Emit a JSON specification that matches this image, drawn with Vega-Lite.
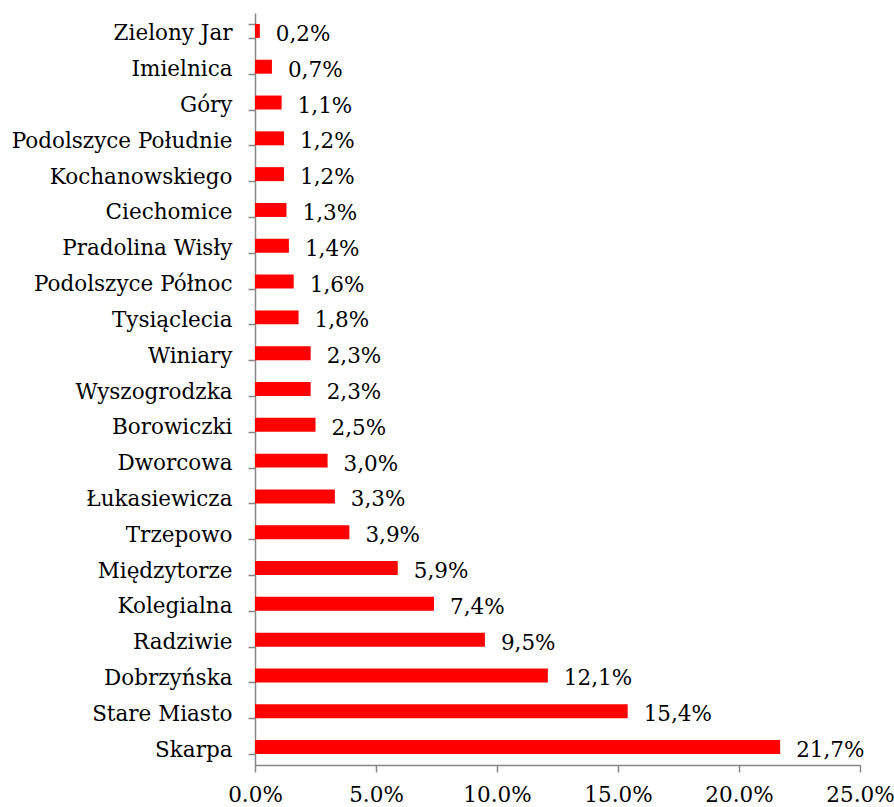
{
  "$schema": "https://vega.github.io/schema/vega-lite/v6.json",
  "autosize": "none",
  "width": 605,
  "height": 752,
  "padding": {"left": 255, "top": 13, "right": 34, "bottom": 42},
  "background": "white",
  "config": {
    "view": {"stroke": null},
    "font": "DejaVu Serif",
    "axis": {
      "labelFont": "DejaVu Serif",
      "labelFontSize": 21.5,
      "labelColor": "black",
      "labelLimit": 0,
      "domainColor": "#868686",
      "tickColor": "#868686",
      "domainWidth": 1.5,
      "tickWidth": 1.5,
      "grid": false,
      "title": null
    }
  },
  "data": {
    "values": [
      {"district": "Zielony Jar", "share": 0.2, "label": "0,2%"},
      {"district": "Imielnica", "share": 0.7, "label": "0,7%"},
      {"district": "Góry", "share": 1.1, "label": "1,1%"},
      {"district": "Podolszyce Południe", "share": 1.2, "label": "1,2%"},
      {"district": "Kochanowskiego", "share": 1.2, "label": "1,2%"},
      {"district": "Ciechomice", "share": 1.3, "label": "1,3%"},
      {"district": "Pradolina Wisły", "share": 1.4, "label": "1,4%"},
      {"district": "Podolszyce Północ", "share": 1.6, "label": "1,6%"},
      {"district": "Tysiąclecia", "share": 1.8, "label": "1,8%"},
      {"district": "Winiary", "share": 2.3, "label": "2,3%"},
      {"district": "Wyszogrodzka", "share": 2.3, "label": "2,3%"},
      {"district": "Borowiczki", "share": 2.5, "label": "2,5%"},
      {"district": "Dworcowa", "share": 3.0, "label": "3,0%"},
      {"district": "Łukasiewicza", "share": 3.3, "label": "3,3%"},
      {"district": "Trzepowo", "share": 3.9, "label": "3,9%"},
      {"district": "Międzytorze", "share": 5.9, "label": "5,9%"},
      {"district": "Kolegialna", "share": 7.4, "label": "7,4%"},
      {"district": "Radziwie", "share": 9.5, "label": "9,5%"},
      {"district": "Dobrzyńska", "share": 12.1, "label": "12,1%"},
      {"district": "Stare Miasto", "share": 15.4, "label": "15,4%"},
      {"district": "Skarpa", "share": 21.7, "label": "21,7%"}
    ]
  },
  "encoding": {
    "y": {
      "field": "district",
      "type": "nominal",
      "sort": null,
      "scale": {"paddingInner": 0.61, "paddingOuter": 0.305},
      "axis": {
        "tickBand": "extent",
        "tickSize": 7,
        "labelPadding": 16,
        "labelOffset": 3
      }
    },
    "x": {
      "field": "share",
      "type": "quantitative",
      "scale": {"domain": [0, 25], "nice": false, "zero": true},
      "axis": {
        "values": [0, 5, 10, 15, 20, 25],
        "labelExpr": "format(datum.value, '.1f') + '%'",
        "tickSize": 7,
        "labelPadding": 12,
        "labelFlush": false,
        "labelOverlap": false
      }
    }
  },
  "layer": [
    {"mark": {"type": "bar", "color": "#FF0000"}},
    {
      "mark": {
        "type": "text",
        "align": "left",
        "baseline": "alphabetic",
        "dx": 16,
        "dy": 10,
        "fontSize": 21.5,
        "font": "DejaVu Serif",
        "color": "black"
      },
      "encoding": {"text": {"field": "label"}}
    }
  ]
}
